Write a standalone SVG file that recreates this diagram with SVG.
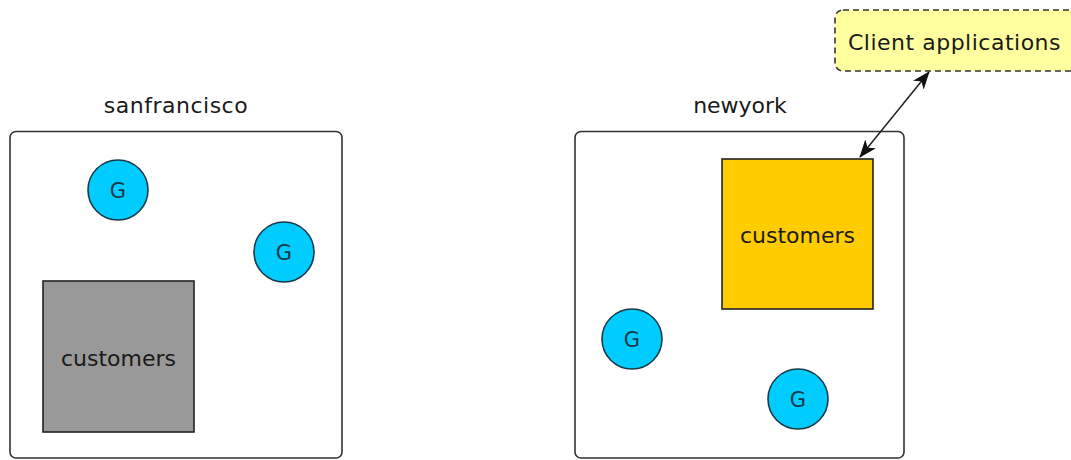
<svg xmlns="http://www.w3.org/2000/svg" width="1071" height="460" viewBox="0 0 1071 460">
<style>
text{font-family:"DejaVu Sans",sans-serif;fill:#1a1a1a}
.lbl{font-size:22px;text-anchor:middle}
.site{fill:#fff;stroke:#333;stroke-width:1.6}
.g{fill:#00ccff;stroke:#1a3a4a;stroke-width:1.6}
.gt{font-size:21px;text-anchor:middle;fill:#1a3a4a}
.coll{stroke:#222;stroke-width:1.6}
</style>
<defs>
<marker id="ah" viewBox="0 0 18 14" refX="17" refY="7" markerWidth="18" markerHeight="14" markerUnits="userSpaceOnUse" orient="auto-start-reverse">
<path d="M0,0 L18,7 L0,14 L5,7 Z" fill="#111"/>
</marker>
</defs>
<g id="sanfrancisco">
<text class="lbl" x="176" y="113" letter-spacing="0.5">sanfrancisco</text>
<rect class="site" x="10" y="131.5" width="332" height="326.5" rx="6"/>
</g>
<g id="sf-g1"><circle class="g" cx="118" cy="190" r="30"/><text class="gt" x="118" y="198">G</text></g>
<g id="sf-g2"><circle class="g" cx="284" cy="252" r="30"/><text class="gt" x="284" y="260">G</text></g>
<g id="sf-customers"><rect class="coll" x="43" y="281" width="151" height="151" fill="#999999"/><text class="lbl" x="118.5" y="366">customers</text></g>
<g id="newyork">
<text class="lbl" x="740" y="113">newyork</text>
<rect class="site" x="575" y="131.5" width="329" height="326.5" rx="6"/>
</g>
<g id="ny-customers"><rect class="coll" x="722" y="159" width="151" height="150" fill="#ffcc00"/><text class="lbl" x="797.5" y="243">customers</text></g>
<g id="ny-g1"><circle class="g" cx="632" cy="339" r="30"/><text class="gt" x="632" y="347">G</text></g>
<g id="ny-g2"><circle class="g" cx="798" cy="399" r="30"/><text class="gt" x="798" y="407">G</text></g>
<g id="client">
<rect x="835" y="10" width="250" height="61" rx="8" fill="#ffffa0" stroke="#333" stroke-width="1.6" stroke-dasharray="6,4"/>
<text x="848" y="50" font-size="22" letter-spacing="0.5">Client applications</text>
</g>
<g id="connectors">
<line x1="929" y1="72" x2="860" y2="157" stroke="#222" stroke-width="1.5" marker-start="url(#ah)" marker-end="url(#ah)"/>
</g>
</svg>
